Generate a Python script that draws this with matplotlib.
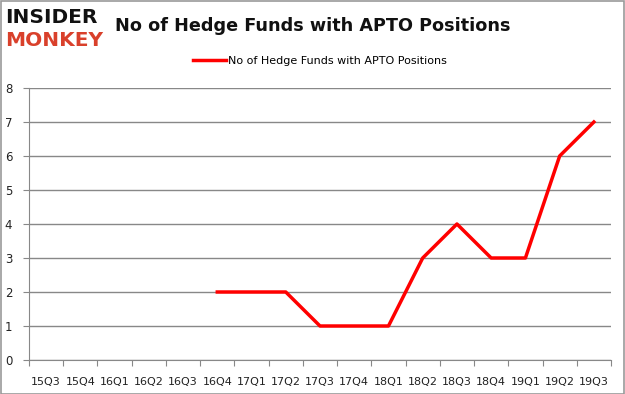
import numpy as np
import matplotlib.pyplot as plt
from matplotlib.patches import Rectangle

quarters = ['15Q3', '15Q4', '16Q1', '16Q2', '16Q3', '16Q4', '17Q1', '17Q2', '17Q3',
            '17Q4', '18Q1', '18Q2', '18Q3', '18Q4', '19Q1', '19Q2', '19Q3']
funds = [np.nan, np.nan, np.nan, np.nan, np.nan, 2, 2, 2, 1, 1, 1, 3, 4, 3, 3, 6, 7]

plt.rc('font', family='DejaVu Sans')
fig = plt.figure(figsize=(6.25, 3.94), dpi=100)
ax = fig.add_axes([29 / 625, 34 / 394, 582 / 625, 272 / 394])

x = np.arange(len(quarters)) + 0.5
ax.plot(x, funds, color='#ff0000', lw=2.5, label='No of Hedge Funds with APTO Positions')

ax.set_xlim(0, len(quarters))
ax.set_ylim(0, 8)
ax.set_yticks(range(9))
ax.set_xticks(np.arange(len(quarters) + 1))
ax.set_xticklabels([])
ax.set_xticks(x, minor=True)
ax.set_xticklabels(quarters, minor=True)
ax.tick_params(axis='x', which='minor', length=0, pad=12, labelsize=8, colors='#222222')
ax.tick_params(axis='x', which='major', length=4, color='#888888', direction='out')
ax.tick_params(axis='y', length=4, color='#888888', labelsize=8.5, labelcolor='#222222', pad=8)
ax.grid(axis='y', color='#888888', lw=1)
ax.set_axisbelow(True)
for s in ['top', 'right']:
    ax.spines[s].set_visible(False)
for s in ['left', 'bottom']:
    ax.spines[s].set_color('#888888')

ax.legend(loc='upper center', bbox_to_anchor=(0.5, 1.155), frameon=False, fontsize=8,
          handlelength=3.0, handletextpad=0.2)

fig.text(0.5, 0.935, 'No of Hedge Funds with APTO Positions', ha='center', va='center',
         fontsize=12.7, fontweight='bold', color='#111111')
fig.text(0.008, 0.955, 'INSIDER', ha='left', va='center', fontsize=14.5, fontweight='heavy',
         color='#111111')
fig.text(0.008, 0.897, 'MONKEY', ha='left', va='center', fontsize=14.5, fontweight='heavy',
         color='#d9402b')
fig.patches.append(Rectangle((0.001, 0.001), 0.997, 0.997, transform=fig.transFigure,
                             fill=False, edgecolor='#999999', lw=1.2))

fig.savefig('out.png', dpi=100)
